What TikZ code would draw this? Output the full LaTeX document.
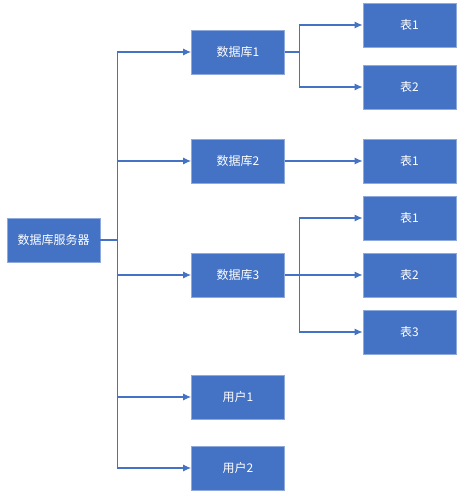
\documentclass[tikz,border=0pt]{standalone}
\usepackage{fontspec}
\newfontfamily\cjk{Noto Sans CJK SC}
\usetikzlibrary{arrows.meta}
\definecolor{boxblue}{HTML}{4472C4}
\definecolor{rimblue}{HTML}{8EA9DB}

\begin{document}
\begin{tikzpicture}[x=1pt,y=-1pt,>={Latex[length=8pt,width=7pt]},
        box/.style={fill=boxblue,draw=rimblue,line width=0.8pt,text=white,
            minimum width=93pt,minimum height=44pt,inner sep=0pt,
            font=\cjk\fontsize{12}{14}\selectfont},
        link/.style={boxblue,line width=1.1pt,->}]
            \useasboundingbox (0,0) rectangle (464,495);

            % the server
            \node[box] (server) at (53.5,240) {数据库服务器};

            % databases and users
            \node[box] (db1) at (238,52) {数据库1};
            \node[box] (db2) at (238,161) {数据库2};
            \node[box] (db3) at (238,275) {数据库3};
            \node[box] (user1) at (238,397) {用户1};
            \node[box] (user2) at (238,468) {用户2};

            % tables
            \node[box] (t11) at (409.5,25) {表1};
            \node[box] (t12) at (409.5,87) {表2};
            \node[box] (t21) at (409.5,161) {表1};
            \node[box] (t31) at (409.5,218) {表1};
            \node[box] (t32) at (409.5,275) {表2};
            \node[box] (t33) at (409.5,332) {表3};

            % server to databases and users
            \foreach \n in {db1,db2,db3,user1,user2}
                \draw[link] (server.east) -- ++(17,0) |- (\n.west);

            % databases to tables
            \foreach \n in {t11,t12}
                \draw[link] (db1.east) -- ++(15,0) |- (\n.west);
            \draw[link] (db2.east) -- (t21.west);
            \foreach \n in {t31,t32,t33}
                \draw[link] (db3.east) -- ++(15,0) |- (\n.west);
        \end{tikzpicture}
\end{document}
